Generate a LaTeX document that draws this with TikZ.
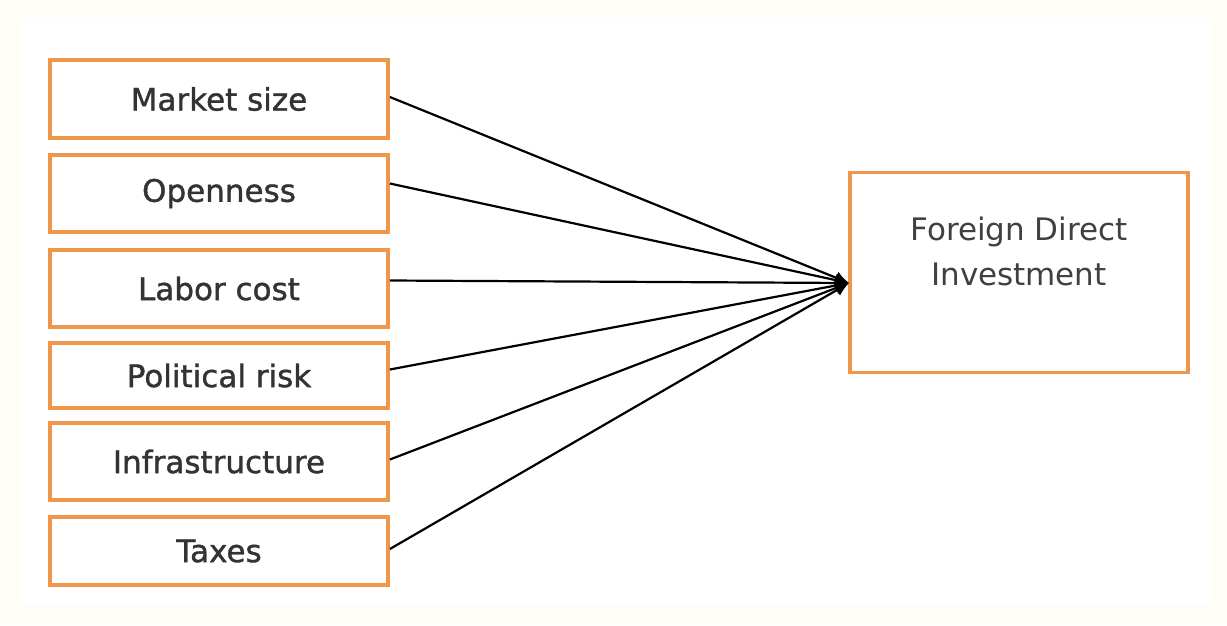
\documentclass[tikz,border=0pt]{standalone}
\usepackage{fontspec}
\setmainfont{DejaVu Sans}
\newfontfamily\labelfont[FakeBold=1.2]{DejaVu Sans}
\usetikzlibrary{arrows.meta}
\definecolor{boxline}{RGB}{240,150,75}
\definecolor{paper}{RGB}{255,254,246}
\tikzset{
  factor/.style={draw=boxline, line width=3.8pt, fill=white, minimum width=338pt,
    font=\labelfont\fontsize{31}{34}\selectfont, text=black!80, inner sep=0pt},
  outcome/.style={draw=boxline, line width=3.8pt, fill=white, minimum width=338pt,
    minimum height=200pt, inner sep=0pt},
  link/.style={line width=2.2pt, black, -{Latex[length=14pt,width=13pt]}}
}
\begin{document}
\begin{tikzpicture}[x=1pt,y=-1pt]
  \useasboundingbox (0,0) rectangle (1227,625);
  \fill[paper] (0,0) rectangle (1227,625);
  \fill[white] (22,18) rectangle (1210,605);
  % input factors
  \node[factor, minimum height=78pt] (ms) at (219,99) {Market size};
  \node[factor, minimum height=77pt] (op) at (219,193.5) {Openness};
  \node[factor, minimum height=77pt] (lc) at (219,288.5) {Labor cost};
  \node[factor, minimum height=65pt] (pr) at (219,375.5) {Political risk};
  \node[factor, minimum height=77pt] (in) at (219,461.5) {Infrastructure};
  \node[factor, minimum height=68pt] (tx) at (219,551) {Taxes};
  % outcome
  \node[outcome] (fdi) at (1019,272.5) {};
  \node[font=\fontsize{31}{45}\selectfont, text=black!75, align=center] (fdit) at (1019,251) {Foreign Direct\\Investment};
  \coordinate (tip) at (849,283);
  % connectors into the outcome
  \foreach \n/\dy in {ms/2, op/10, lc/8, pr/6, in/2, tx/2}
    \draw[link] ([yshift=\dy pt]\n.east) -- (tip);
\end{tikzpicture}
\end{document}
